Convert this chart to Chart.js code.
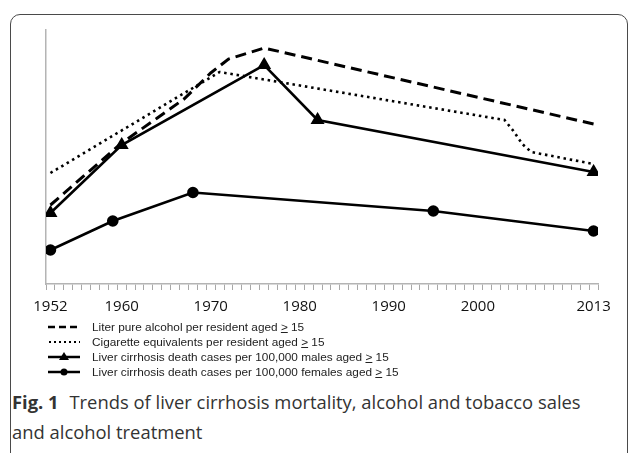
<!DOCTYPE html>
<html>
<head>
<meta charset="utf-8">
<script src="https://cdn.jsdelivr.net/npm/chart.js@4.4.1/dist/chart.umd.min.js"></script>
<style>
    body { margin: 0; width: 630px; height: 453px; position: relative; overflow: hidden; background: #fff; }
    .card { position: absolute; left: 10px; top: 14px; width: 616px; height: 520px; border: 1.5px solid #4a4a4a; border-radius: 10px; }
    #chart { position: absolute; left: 0; top: 0; }
    #legend { position: absolute; left: 48px; top: 319px; font-family: "Liberation Sans", Arial, sans-serif; font-size: 11.8px; color: #222; }
    .row { height: 15px; display: flex; align-items: center; }
    .row svg { margin-right: 12px; }
    #caption { position: absolute; left: 12px; top: 387px; font-family: "Open Sans", sans-serif; font-size: 18.4px; line-height: 30px; color: #333; }
    #caption b { font-weight: 700; margin-right: 6px; }
</style>
</head>
<body>
<div class="card"></div>
<canvas id="chart" width="630" height="330"></canvas>
<div id="legend"></div>
<div id="caption"><b>Fig. 1</b> Trends of liver cirrhosis mortality, alcohol and tobacco sales<br>and alcohol treatment</div>

<script>
// values are relative heights (no y scale is printed)
const alcoholYears = [1952, 1960, 1964, 1967, 1970, 1972, 1976, 2013];
const alcoholValues = [79, 141, 166, 185, 211, 225, 236, 160];

const cigaretteYears = [1952, 1971, 2003, 2004, 2005, 2006, 2013];
const cigaretteValues = [111, 212, 164, 153, 140, 132, 120];

const maleYears = [1952, 1960, 1976, 1982, 2013];
const maleValues = [71, 139, 219, 164, 112];

const femaleYears = [1952, 1959, 1968, 1995, 2013];
const femaleValues = [34, 63, 91.5, 73, 53];

const tickYears = [1952, 1960, 1970, 1980, 1990, 2000, 2013];
const tickLabels = ["1952", "1960", "1970", "1980", "1990", "2000", "2013"];

const legendLabels = [
    "Liter pure alcohol per resident aged <u>&gt;</u> 15",
    "Cigarette equivalents per resident aged <u>&gt;</u> 15",
    "Liver cirrhosis death cases per 100,000 males aged <u>&gt;</u> 15",
    "Liver cirrhosis death cases per 100,000 females aged <u>&gt;</u> 15"
];

const pts = (xs, ys) => xs.map((x, i) => ({ x: x, y: ys[i] }));
const AXIS = "#b4b4b4";
const X_MIN = 1951.5, X_MAX = 2013.5;

new Chart(document.getElementById("chart"), {
    type: "line",
    data: {
        datasets: [
            {
                label: "alcohol",
                data: pts(alcoholYears, alcoholValues),
                borderColor: "#000",
                borderWidth: 3,
                borderDash: [11, 6],
                pointRadius: 0
            },
            {
                label: "cigarettes",
                data: pts(cigaretteYears, cigaretteValues),
                borderColor: "#000",
                borderWidth: 2.6,
                borderDash: [2.5, 3.8],
                pointRadius: 0
            },
            {
                label: "males",
                data: pts(maleYears, maleValues),
                borderColor: "#000",
                borderWidth: 2.6,
                pointStyle: "triangle",
                pointRadius: 5.5,
                pointBackgroundColor: "#000",
                pointBorderColor: "#000"
            },
            {
                label: "females",
                data: pts(femaleYears, femaleValues),
                borderColor: "#000",
                borderWidth: 2.6,
                pointStyle: "circle",
                pointRadius: 4.5,
                pointBackgroundColor: "#000",
                pointBorderColor: "#000"
            }
        ]
    },
    options: {
        responsive: false,
        animation: false,
        layout: { padding: { left: 46, right: 32, top: 30, bottom: 6 } },
        plugins: { legend: { display: false }, tooltip: { enabled: false } },
        scales: {
            // tick marks between years
            x: {
                type: "linear",
                position: "bottom",
                weight: 0,
                min: X_MIN,
                max: X_MAX,
                afterBuildTicks: axis => {
                    const t = [];
                    for (let v = X_MIN; v <= X_MAX; v += 1) t.push({ value: v });
                    axis.ticks = t;
                },
                afterFit: axis => { axis.height = 6; },
                ticks: { display: false, autoSkip: false },
                grid: {
                    drawOnChartArea: false,
                    drawTicks: true,
                    tickLength: 6,
                    tickWidth: 1,
                    tickColor: "#a8a8a8",
                    color: "#a8a8a8"
                },
                border: { color: AXIS, width: 1.5 }
            },
            // year labels
            x2: {
                type: "linear",
                position: "bottom",
                weight: 1,
                min: X_MIN,
                max: X_MAX,
                afterBuildTicks: axis => {
                    axis.ticks = tickYears.map(v => ({ value: v }));
                },
                afterFit: axis => { axis.height = 34; },
                ticks: {
                    autoSkip: false,
                    maxRotation: 0,
                    padding: 8,
                    color: "#111",
                    font: { family: "Open Sans", size: 15 },
                    callback: v => tickLabels[tickYears.indexOf(v)]
                },
                grid: { display: false, drawTicks: false },
                border: { display: false }
            },
            y: {
                min: 0,
                max: 254,
                afterFit: axis => { axis.width = 0; },
                ticks: { display: false },
                grid: { display: false, drawTicks: false },
                border: { color: AXIS, width: 1.5 }
            }
        }
    }
});

// legend drawn as html with small svg samples
const samples = [
    '<line x1="0" y1="5" x2="32" y2="5" stroke="#000" stroke-width="2.5" stroke-dasharray="7,4"/>',
    '<line x1="1" y1="5" x2="32" y2="5" stroke="#000" stroke-width="2" stroke-dasharray="2,3"/>',
    '<line x1="0" y1="5" x2="32" y2="5" stroke="#000" stroke-width="2.5"/><polygon points="16,0 21,8 11,8" fill="#000"/>',
    '<line x1="0" y1="5" x2="32" y2="5" stroke="#000" stroke-width="2.5"/><circle cx="16" cy="5" r="3.5" fill="#000"/>'
];
document.getElementById("legend").innerHTML = legendLabels.map((txt, i) =>
    '<div class="row"><svg width="32" height="10">' + samples[i] + '</svg><span>' + txt + '</span></div>'
).join("");
</script>
</body>
</html>
